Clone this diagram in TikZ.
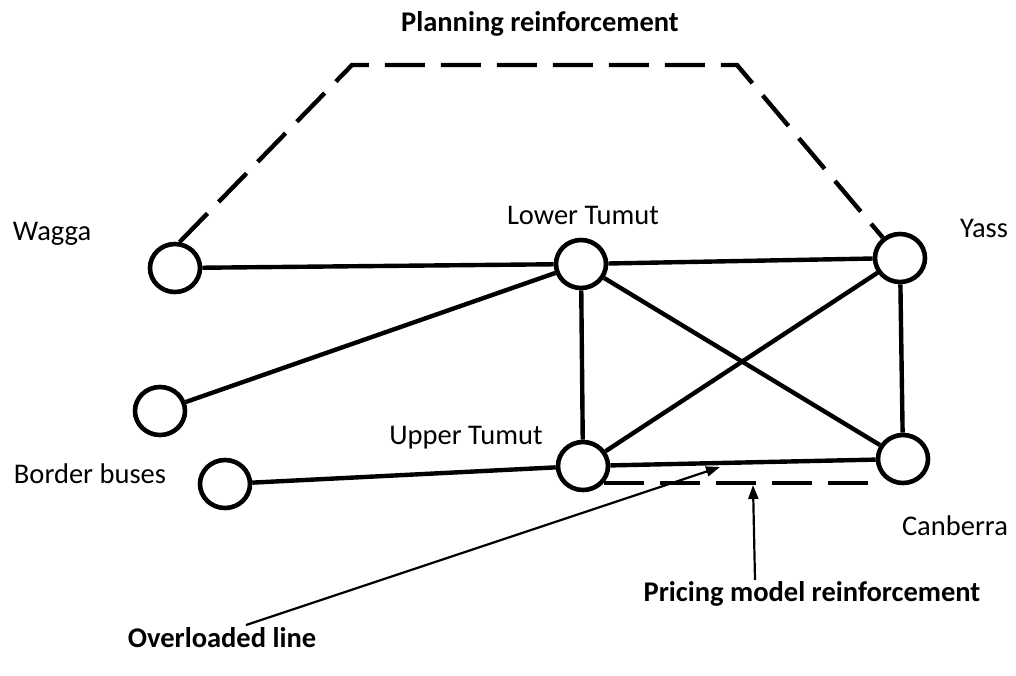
\documentclass[tikz,border=0pt]{standalone}
\usepackage{fontspec}
\setmainfont{Carlito}
\usetikzlibrary{arrows.meta,shapes.geometric}
\begin{document}
\begin{tikzpicture}[x=1pt,y=-1pt,
  bus/.style={draw, ellipse, line width=4.6pt, minimum width=50pt, minimum height=48pt, inner sep=0pt},
  tie/.style={line width=4.4pt},
  reinforce/.style={line width=4.4pt, dash pattern=on 40pt off 16pt},
  pointer/.style={line width=2.2pt, -{Triangle[length=14pt,width=10pt]}},
  lbl/.style={font=\fontsize{28.5}{34}\selectfont, inner sep=0pt, anchor=base},
  blbl/.style={lbl, font=\fontsize{28.5}{34}\selectfont\bfseries}
]
\useasboundingbox (0,0) rectangle (1016,675);

% buses
\node[bus] (wagga)  at (175,268) {};
\node[bus] (lt)     at (581,264) {};
\node[bus] (yass)   at (900,258) {};
\node[bus] (bb1)    at (160,411) {};
\node[bus] (bb2)    at (225,484) {};
\node[bus] (ut)     at (583,466) {};
\node[bus] (canb)   at (903,459) {};

% bus names
\node[lbl] (nwagga) at (52,240)  {Wagga};
\node[lbl] (nlt)    at (583,224) {Lower Tumut};
\node[lbl] (nyass)  at (984,237) {Yass};
\node[lbl] (nut)    at (466,444) {Upper Tumut};
\node[lbl] (nbb)    at (90,483)  {Border buses};
\node[lbl] (ncanb)  at (955,535) {Canberra};

% existing lines
\draw[tie] (wagga) -- (lt);
\draw[tie] (lt) -- (yass);
\draw[tie] (lt) -- (bb1);
\draw[tie] (lt) -- (ut);
\draw[tie] (lt) -- (canb);
\draw[tie] (yass) -- (ut);
\draw[tie] (yass) -- (canb);
\draw[tie] (ut) -- (canb);
\draw[tie] (bb2) -- (ut);

% planning reinforcement
\coordinate (pl) at (352,65);
\coordinate (pr) at (737,65);
\draw[reinforce] (wagga.80) -- (pl) -- (pr) -- (yass);
\node[blbl] (nplan) at (540,31) {Planning reinforcement};

% pricing model reinforcement
\draw[reinforce] (ut.-40) -- (ut.-40 -| canb.west);

% annotations
\coordinate (ovtail) at (246,625);
\coordinate (ovtip)  at (720,467);
\draw[pointer] (ovtail) -- (ovtip);
\node[blbl] (nover) at (222,647) {Overloaded line};

\coordinate (pmtail) at (755,580);
\coordinate (pmtip)  at (753,485);
\draw[pointer] (pmtail) -- (pmtip);
\node[blbl] (nprice) at (812,601) {Pricing model reinforcement};
\end{tikzpicture}
\end{document}
